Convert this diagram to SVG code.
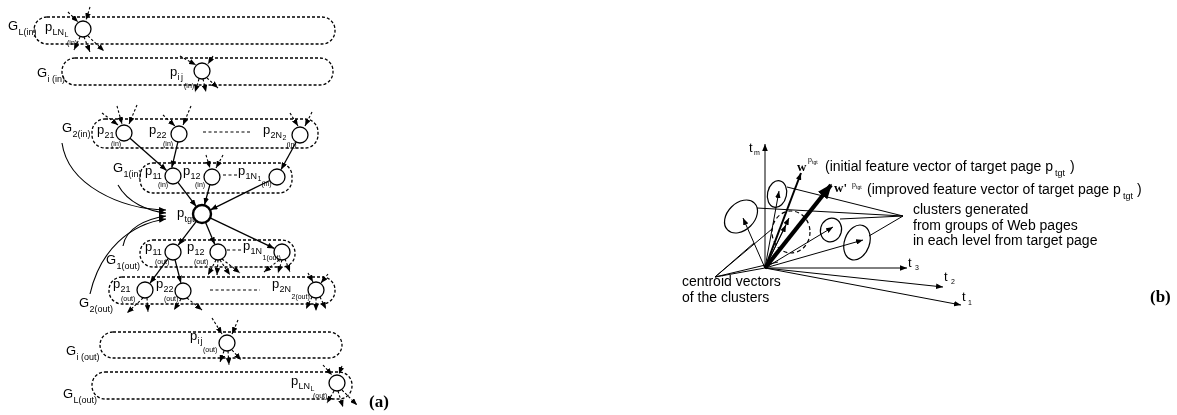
<svg xmlns="http://www.w3.org/2000/svg" width="1177" height="415" viewBox="0 0 1177 415">
<defs>
  <marker id="ah" viewBox="0 0 10 8" refX="10" refY="4" markerWidth="7" markerHeight="5.6" orient="auto" markerUnits="userSpaceOnUse"><path d="M0,0 L10,4 L0,8 z" fill="#000"/></marker>
  <marker id="ahb" viewBox="0 0 10 8" refX="9" refY="4" markerWidth="15" markerHeight="12" orient="auto" markerUnits="userSpaceOnUse"><path d="M0,0 L10,4 L0,8 z" fill="#000"/></marker>
  <!-- keep the whole drawing in plain greys -->
  <filter id="mono" x="0" y="0" width="1177" height="415" filterUnits="userSpaceOnUse"><feColorMatrix type="saturate" values="0"/></filter>
</defs>
<style>
  .box{fill:none;stroke:#000;stroke-width:1.3;stroke-dasharray:3 2}
  .sep{fill:none;stroke:#000;stroke-width:1.2;stroke-dasharray:3 2.5}
  .nd{fill:#fff;stroke:#000;stroke-width:1.3}
  .tg{fill:#fff;stroke:#000;stroke-width:2.4}
  .ar{fill:none;stroke:#000;stroke-width:1.3;marker-end:url(#ah)}
  .arc{fill:none;stroke:#000;stroke-width:1.1;marker-end:url(#ah)}
  .da{fill:none;stroke:#000;stroke-width:1.1;stroke-dasharray:2.5 2;marker-end:url(#ah)}
  .ln{fill:none;stroke:#000;stroke-width:1}
  .vc{fill:none;stroke:#000;stroke-width:1;marker-end:url(#ah)}
  .el{fill:none;stroke:#000;stroke-width:1.2}
  text{font-family:"Liberation Sans",Arial,sans-serif;fill:#000}
  .g{font-size:13px}
  .s{font-size:9px}
  .ss{font-size:7px}
  .t5{font-size:5px}
  .b{font-size:14px}
  .w{font-family:"Liberation Serif","Times New Roman",serif;font-weight:bold;font-size:13px}
  .cap{font-family:"Liberation Serif","Times New Roman",serif;font-weight:bold;font-size:17px}
</style>
<rect width="1177" height="415" fill="#fff"/>
<g filter="url(#mono)">
<rect width="1177" height="415" fill="#fff"/>

<!-- (a) layers of linked pages -->
<g id="layer-L-in">
  <rect class="box" x="34" y="17" width="301" height="27" rx="13"/>
  <text class="g" x="8" y="30">G</text><text class="s" x="18.5" y="35">L(in)</text>
</g>
<g id="layer-i-in">
  <rect class="box" x="62" y="58" width="271" height="27" rx="13"/>
  <text class="g" x="37" y="77">G</text><text class="s" x="47.5" y="82">i (in)</text>
</g>
<g id="layer-2-in">
  <rect class="box" x="92" y="119" width="226" height="29" rx="13"/>
  <line class="sep" x1="203" y1="132" x2="252" y2="132"/>
  <text class="g" x="62" y="132">G</text><text class="s" x="72.5" y="137">2(in)</text>
</g>
<g id="layer-1-in">
  <rect class="box" x="140" y="163" width="152" height="30" rx="13"/>
  <line class="sep" x1="223" y1="175" x2="238" y2="175"/>
  <text class="g" x="113" y="172">G</text><text class="s" x="123.5" y="177">1(in)</text>
</g>
<g id="layer-1-out">
  <rect class="box" x="140" y="240" width="155" height="27" rx="13"/>
  <line class="sep" x1="227" y1="250" x2="242" y2="250"/>
  <text class="g" x="106" y="264">G</text><text class="s" x="116.5" y="269">1(out)</text>
</g>
<g id="layer-2-out">
  <rect class="box" x="109" y="277" width="226" height="27" rx="13"/>
  <line class="sep" x1="210" y1="290" x2="260" y2="290"/>
  <text class="g" x="79" y="307">G</text><text class="s" x="89.5" y="312">2(out)</text>
</g>
<g id="layer-i-out">
  <rect class="box" x="100" y="332" width="242" height="26" rx="13"/>
  <text class="g" x="66" y="355">G</text><text class="s" x="76.5" y="360">i (out)</text>
</g>
<g id="layer-L-out">
  <rect class="box" x="92" y="372" width="260" height="27" rx="13"/>
  <text class="g" x="63" y="398">G</text><text class="s" x="73.5" y="403">L(out)</text>
</g>

<!-- (a) connectors -->
<g id="links-a">
  <!-- page-to-page links -->
  <line class="ar" x1="130" y1="138.3" x2="166.6" y2="170.4"/>
  <line class="ar" x1="177.9" y1="141.9" x2="171.8" y2="167.6"/>
  <line class="ar" x1="296.2" y1="142" x2="281.1" y2="169.5"/>
  <line class="ar" x1="177.9" y1="182.4" x2="196.2" y2="206.4"/>
  <line class="ar" x1="209.9" y1="184.7" x2="204.5" y2="204.8"/>
  <line class="ar" x1="269.8" y1="180.5" x2="210.5" y2="209.8"/>
  <line class="ar" x1="196.5" y1="221.2" x2="178.2" y2="245.2"/>
  <line class="ar" x1="205.5" y1="222.3" x2="214.7" y2="244.2"/>
  <line class="ar" x1="210.1" y1="217.9" x2="274.3" y2="248.4"/>
  <line class="ar" x1="168.3" y1="258.4" x2="150" y2="283.2"/>
  <line class="ar" x1="175" y1="259.7" x2="180.9" y2="282.8"/>
  <!-- layer groups feeding the target page -->
  <path class="arc" d="M62,143 C68,185 120,209 166,210"/>
  <path class="arc" d="M118,185 C128,203 148,211 166,213"/>
  <path class="arc" d="M123,246 C126,228 146,219 166,216"/>
  <path class="arc" d="M90,294 C100,250 130,224 166,219"/>
  <!-- links to and from pages outside the drawn layers -->
  <line class="da" x1="68" y1="12" x2="78" y2="22"/>
  <line class="da" x1="90" y1="7" x2="86" y2="20"/>
  <line class="da" x1="80" y1="37" x2="74" y2="50"/>
  <line class="da" x1="84" y1="37" x2="90" y2="52"/>
  <line class="da" x1="88" y1="36" x2="104" y2="51"/>
  <line class="da" x1="180" y1="56" x2="196" y2="65"/>
  <line class="da" x1="213" y1="56" x2="208" y2="64"/>
  <line class="da" x1="199" y1="79" x2="195" y2="92"/>
  <line class="da" x1="203" y1="79" x2="206" y2="92"/>
  <line class="da" x1="207" y1="78" x2="218" y2="88"/>
  <line class="da" x1="102" y1="113" x2="118" y2="125"/>
  <line class="da" x1="117" y1="106" x2="122" y2="124"/>
  <line class="da" x1="137" y1="105" x2="129" y2="124"/>
  <line class="da" x1="163" y1="115" x2="175" y2="126"/>
  <line class="da" x1="191" y1="106" x2="183" y2="125"/>
  <line class="da" x1="290" y1="113" x2="298" y2="126"/>
  <line class="da" x1="312" y1="112" x2="305" y2="126"/>
  <line class="da" x1="206" y1="155" x2="210" y2="168"/>
  <line class="da" x1="223" y1="155" x2="216" y2="168"/>
  <line class="da" x1="216" y1="260" x2="208" y2="275"/>
  <line class="da" x1="218" y1="260" x2="217" y2="275"/>
  <line class="da" x1="220" y1="260" x2="230" y2="275"/>
  <line class="da" x1="222" y1="259" x2="240" y2="273"/>
  <line class="da" x1="279" y1="260" x2="264" y2="272"/>
  <line class="da" x1="282" y1="260" x2="278" y2="273"/>
  <line class="da" x1="285" y1="259" x2="290" y2="272"/>
  <line class="da" x1="143" y1="298" x2="127" y2="313"/>
  <line class="da" x1="147" y1="298" x2="148" y2="312"/>
  <line class="da" x1="181" y1="299" x2="174" y2="310"/>
  <line class="da" x1="187" y1="298" x2="202" y2="310"/>
  <line class="da" x1="308" y1="273" x2="313" y2="282"/>
  <line class="da" x1="328" y1="274" x2="321" y2="283"/>
  <line class="da" x1="312" y1="297" x2="306" y2="309"/>
  <line class="da" x1="316" y1="298" x2="316" y2="311"/>
  <line class="da" x1="320" y1="297" x2="326" y2="309"/>
  <line class="da" x1="212" y1="318" x2="222" y2="334"/>
  <line class="da" x1="238" y1="320" x2="232" y2="334"/>
  <line class="da" x1="224" y1="351" x2="220" y2="362"/>
  <line class="da" x1="228" y1="351" x2="229" y2="365"/>
  <line class="da" x1="232" y1="350" x2="241" y2="360"/>
  <line class="da" x1="323" y1="365" x2="332" y2="375"/>
  <line class="da" x1="342" y1="366" x2="339" y2="374"/>
  <line class="da" x1="334" y1="391" x2="327" y2="403"/>
  <line class="da" x1="338" y1="391" x2="343" y2="407"/>
  <line class="da" x1="342" y1="390" x2="357" y2="405"/>
</g>

<!-- (a) pages -->
<g id="p-LN-L-in"><circle class="nd" cx="83" cy="29" r="8"/>
  <text class="g" x="45" y="31">p</text><text class="s" x="52.5" y="34.5">LN</text><text class="ss" x="64.5" y="37">L</text><text class="ss" x="67" y="45">(in)</text></g>
<g id="p-ij-in"><circle class="nd" cx="202" cy="71" r="8"/>
  <text class="g" x="170" y="76">p</text><text class="s" x="177.5" y="79.5">i</text><text class="s" x="181" y="79.5">j</text><text class="ss" x="184" y="88">(in)</text></g>
<g id="p-21-in"><circle class="nd" cx="124" cy="133" r="8"/>
  <text class="g" x="97" y="134">p</text><text class="s" x="104.5" y="137.5">21</text><text class="ss" x="111" y="146">(in)</text></g>
<g id="p-22-in"><circle class="nd" cx="179" cy="134" r="8"/>
  <text class="g" x="149" y="134">p</text><text class="s" x="156.5" y="137.5">22</text><text class="ss" x="163" y="146">(in)</text></g>
<g id="p-2N2-in"><circle class="nd" cx="300" cy="135" r="8"/>
  <text class="g" x="263" y="134">p</text><text class="s" x="270.5" y="137.5">2N</text><text class="ss" x="282.5" y="139.5">2</text><text class="ss" x="286.5" y="147">(in)</text></g>
<g id="p-11-in"><circle class="nd" cx="173" cy="176" r="8"/>
  <text class="g" x="145" y="175">p</text><text class="s" x="152.5" y="178.5">11</text><text class="ss" x="158" y="187">(in)</text></g>
<g id="p-12-in"><circle class="nd" cx="212" cy="177" r="8"/>
  <text class="g" x="183" y="175">p</text><text class="s" x="190.5" y="178.5">12</text><text class="ss" x="195" y="187">(in)</text></g>
<g id="p-1N1-in"><circle class="nd" cx="277" cy="177" r="8"/>
  <text class="g" x="238" y="175">p</text><text class="s" x="245.5" y="178.5">1N</text><text class="ss" x="257.5" y="181">1</text><text class="ss" x="261.5" y="186">(in)</text></g>
<g id="p-tgt"><circle class="tg" cx="202" cy="214" r="9"/>
  <text class="g" x="177" y="217">p</text><text class="s" x="184.5" y="222">tgt</text></g>
<g id="p-11-out"><circle class="nd" cx="173" cy="252" r="8"/>
  <text class="g" x="145" y="251">p</text><text class="s" x="152.5" y="255">11</text><text class="ss" x="155" y="263.5">(out)</text></g>
<g id="p-12-out"><circle class="nd" cx="218" cy="252" r="8"/>
  <text class="g" x="187" y="251">p</text><text class="s" x="194.5" y="255">12</text><text class="ss" x="194" y="263.5">(out)</text></g>
<g id="p-1N1-out"><circle class="nd" cx="282" cy="252" r="8"/>
  <text class="g" x="243" y="250">p</text><text class="s" x="250.5" y="254">1N</text><text class="ss" x="262.5" y="260">1(out)</text></g>
<g id="p-21-out"><circle class="nd" cx="145" cy="290" r="8"/>
  <text class="g" x="113" y="288">p</text><text class="s" x="120.5" y="292">21</text><text class="ss" x="121" y="300.5">(out)</text></g>
<g id="p-22-out"><circle class="nd" cx="183" cy="291" r="8"/>
  <text class="g" x="156" y="288">p</text><text class="s" x="163.5" y="292">22</text><text class="ss" x="164" y="300.5">(out)</text></g>
<g id="p-2N2-out"><circle class="nd" cx="316" cy="290" r="8"/>
  <text class="g" x="272" y="288">p</text><text class="s" x="279.5" y="292">2N</text><text class="ss" x="291.5" y="298.5">2(out)</text></g>
<g id="p-ij-out"><circle class="nd" cx="227" cy="343" r="8"/>
  <text class="g" x="190" y="340">p</text><text class="s" x="197.5" y="343.5">i</text><text class="s" x="200.5" y="343.5">j</text><text class="ss" x="203" y="352">(out)</text></g>
<g id="p-LN-L-out"><circle class="nd" cx="337" cy="383" r="8"/>
  <text class="g" x="291" y="385">p</text><text class="s" x="298.5" y="388.5">LN</text><text class="ss" x="310.5" y="390.5">L</text><text class="ss" x="313" y="398">(out)</text></g>

<text class="cap" x="369" y="407">(a)</text>

<!-- (b) feature space -->
<g id="axes">
  <line class="vc" x1="765" y1="268" x2="765" y2="144"/>
  <line class="vc" x1="765" y1="268" x2="907" y2="268"/>
  <line class="vc" x1="765" y1="268" x2="943" y2="287"/>
  <line class="vc" x1="765" y1="268" x2="961" y2="305"/>
  <text class="g" x="749" y="152">t</text><text class="ss" x="754" y="155">m</text>
  <text class="g" x="908" y="267">t</text><text class="ss" x="915" y="270">3</text>
  <text class="g" x="944" y="281">t</text><text class="ss" x="951" y="284">2</text>
  <text class="g" x="962" y="301">t</text><text class="ss" x="968" y="305">1</text>
</g>
<g id="clusters">
  <ellipse class="el" cx="741" cy="216.5" rx="19" ry="13.5" transform="rotate(-45 741 216.5)"/>
  <ellipse class="el" cx="777" cy="194" rx="9.5" ry="13.5" transform="rotate(12 777 194)"/>
  <ellipse class="el" cx="791" cy="232" rx="19" ry="21" stroke-dasharray="4 3"/>
  <ellipse class="el" cx="831" cy="230" rx="10.5" ry="12" transform="rotate(15 831 230)"/>
  <ellipse class="el" cx="857" cy="242.5" rx="12.5" ry="18" transform="rotate(20 857 242.5)"/>
</g>
<g id="vectors">
  <line class="vc" x1="765" y1="268" x2="743" y2="218"/>
  <line class="vc" x1="765" y1="268" x2="779" y2="191"/>
  <line class="vc" x1="765" y1="268" x2="789" y2="218"/>
  <line class="vc" x1="765" y1="268" x2="786" y2="225"/>
  <line class="vc" x1="765" y1="268" x2="833" y2="227"/>
  <line class="vc" x1="765" y1="268" x2="863" y2="240"/>
  <line x1="765" y1="268" x2="801" y2="173" stroke="#000" stroke-width="2" marker-end="url(#ah)"/>
  <line x1="765" y1="268" x2="831" y2="185" stroke="#000" stroke-width="4.2" marker-end="url(#ahb)"/>
</g>
<g id="callouts">
  <line class="ln" x1="903" y1="216" x2="787" y2="187"/>
  <line class="ln" x1="903" y1="216" x2="757" y2="208"/>
  <line class="ln" x1="903" y1="216" x2="840" y2="219"/>
  <line class="ln" x1="903" y1="216" x2="869" y2="236"/>
  <line class="ln" x1="715" y1="277" x2="754" y2="243"/>
  <line class="ln" x1="715" y1="277" x2="772" y2="229"/>
  <line class="ln" x1="715" y1="277" x2="765" y2="268"/>
  <line class="ln" x1="715" y1="277" x2="778" y2="262"/>
</g>
<g id="labels-b">
  <text class="w" x="797" y="171">w</text><text class="ss" x="808" y="162">p</text><text class="t5" x="812" y="164">tgt</text>
  <text class="b" x="825" y="171">(initial feature vector of target page p</text><text class="s" x="1055" y="176">tgt</text><text class="b" x="1070" y="171">)</text>
  <text class="w" x="834" y="192">w'</text><text class="ss" x="852" y="187">p</text><text class="t5" x="856" y="189">tgt</text>
  <text class="b" x="867" y="194">(improved feature vector of target page p</text><text class="s" x="1123" y="199">tgt</text><text class="b" x="1137" y="194">)</text>
  <text class="b" x="913" y="214">clusters generated</text>
  <text class="b" x="913" y="230">from groups of Web pages</text>
  <text class="b" x="913" y="245">in each level from target page</text>
  <text class="b" x="682" y="286">centroid vectors</text>
  <text class="b" x="682" y="302">of the clusters</text>
</g>
<text class="cap" x="1150" y="302">(b)</text>
</g>
</svg>
